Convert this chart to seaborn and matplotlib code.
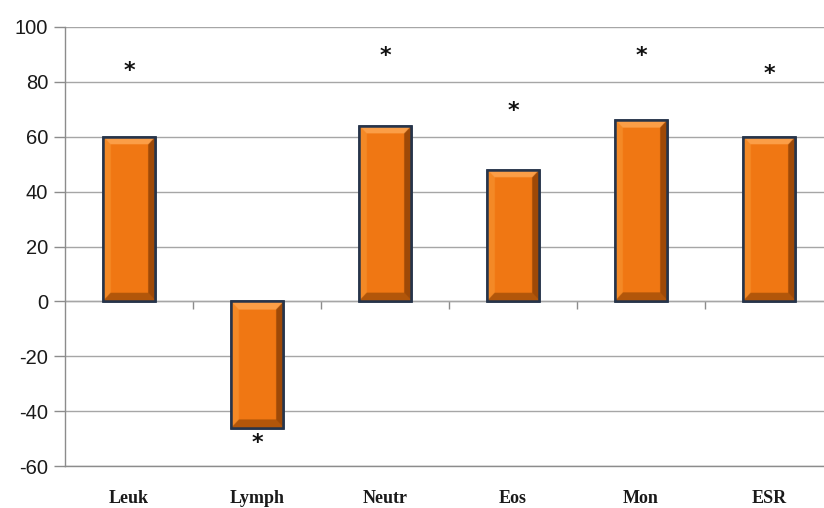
import numpy as np
import pandas as pd
import matplotlib
matplotlib.use("Agg")
import matplotlib.pyplot as plt
from matplotlib.patches import Rectangle
import seaborn as sns

categories = ["Leuk", "Lymph", "Neutr", "Eos", "Mon", "ESR"]
values = [60, -46, 64, 48, 66, 60]
star_pos = [84, -51.5, 89.5, 69.5, 89.5, 83]
star_labels = ["*", "*", "*", "*", "*", "*"]
yticks = [-60, -40, -20, 0, 20, 40, 60, 80, 100]

sns.set_theme(style="white")
plt.rcParams["font.family"] = ["Liberation Sans", "DejaVu Sans"]

df = pd.DataFrame({"cat": categories, "val": values})

fig = plt.figure(figsize=(8.24, 5.08), dpi=100)
ax = fig.add_axes([65 / 824, 1 - 466 / 508, 1 - 65 / 824, (466 - 27) / 508])

sns.barplot(data=df, x="cat", y="val", color="#F07814", width=0.41,
            edgecolor="#26344A", linewidth=1.8, saturation=1, ax=ax, zorder=3)

ax.set_ylim(-60, 100)
ax.set_xlim(-0.5, -0.5 + 759 / 128)
ax.set_yticks(yticks)
ax.set_yticklabels([str(v) for v in yticks], fontsize=14.5, color="#1a1a1a")
ax.yaxis.grid(True, color="#A6A6A6", linewidth=1.0, zorder=0)
ax.set_axisbelow(True)

for s in ["top", "right"]:
    ax.spines[s].set_visible(False)
for s in ["left", "bottom"]:
    ax.spines[s].set_color("#8C8C8C")
    ax.spines[s].set_linewidth(1.0)

ax.tick_params(axis="y", which="major", left=True, length=8, width=1,
               color="#8C8C8C", pad=4)
ax.tick_params(axis="x", which="major", bottom=False, pad=11)
ax.set_xticks(range(len(categories)))
ax.set_xticklabels(categories, fontsize=13, fontweight="bold",
                   family=["Liberation Serif", "DejaVu Serif"], color="#1a1a1a")
ax.set_xlabel("")
ax.set_ylabel("")

# zero line with category boundary ticks
sec = ax.secondary_xaxis(60 / 160)
sec.spines["bottom"].set_color("#A6A6A6")
sec.spines["bottom"].set_linewidth(1.0)
sec.set_xticks([i + 0.5 for i in range(len(categories) - 1)])
sec.tick_params(axis="x", length=6, width=1, color="#8C8C8C", labelbottom=False)

# bevel shading on each bar
def bevel_image(w_frac, h_frac, n=400):
    u = np.linspace(0, 1, n)[None, :].repeat(n, 0)
    v = np.linspace(1, 0, n)[:, None].repeat(n, 1)  # v=1 top
    base = np.array([0.945, 0.470, 0.075])
    img = np.tile(base, (n, n, 1)).astype(float)
    dl = u / w_frac
    dr = (1 - u) / w_frac
    dt = (1 - v) / h_frac
    db = v / h_frac
    d = np.stack([dl, dr, dt, db])
    m = d.argmin(0)
    inside = d.min(0) < 1
    light = np.array([0.985, 0.620, 0.280])
    lside = np.array([0.960, 0.540, 0.150])
    dark = np.array([0.620, 0.290, 0.030])
    dbot = np.array([0.700, 0.340, 0.040])
    for k, col in zip(range(4), [lside, dark, light, dbot]):
        mask = inside & (m == k)
        img[mask] = col
    return img

for p in list(ax.patches):
    x, y = p.get_x(), p.get_y()
    w, h = p.get_width(), p.get_height()
    y0, y1 = min(y, y + h), max(y, y + h)
    hh = y1 - y0
    img = bevel_image(0.06 / w, 3.0 / hh)
    im = ax.imshow(img, extent=(x, x + w, y0, y1), aspect="auto",
                   interpolation="bilinear", zorder=3.5)
    im.set_clip_path(p)
    ax.add_patch(Rectangle((x, y0), w, hh, fill=False, edgecolor="#26344A",
                           linewidth=1.8, zorder=4))

ax.set_xlim(-0.5, -0.5 + 759 / 128)
ax.set_ylim(-60, 100)

for i, (sp, lab) in enumerate(zip(star_pos, star_labels)):
    ax.text(i, sp, lab, ha="center", va="center", fontsize=16,
            fontweight="bold", color="#111111", family=["DejaVu Sans"], zorder=5)

fig.savefig("out.png", dpi=100)
